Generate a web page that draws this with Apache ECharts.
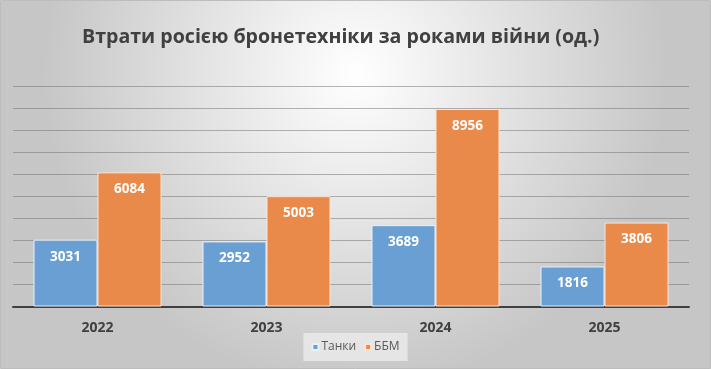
<!DOCTYPE html>
<html>
<head>
<meta charset="utf-8">
<script src="https://cdn.jsdelivr.net/npm/echarts@6/dist/echarts.min.js"></script>
<style>html,body{margin:0;padding:0;background:#fff}#c{width:711px;height:369px}</style>
</head>
<body>
<div id="c"></div>
<script>
const categories = ['2022', '2023', '2024', '2025'];
const tanks = [3031, 2952, 3689, 1816];
const ifv = [6084, 5003, 8956, 3806];
const seriesNames = ['Танки', 'ББМ'];
const titleText = 'Втрати росією бронетехніки за роками війни (од.)';

const chart = echarts.init(document.getElementById('c'), null, {renderer: 'canvas'});
const font = '"Open Sans", "Noto Sans", sans-serif';
const labelCfg = {
  show: true, position: 'insideTop', distance: 10,
  color: '#ffffff', fontWeight: 'bold', fontSize: 13.5, fontFamily: font
};
chart.setOption({
  backgroundColor: 'transparent',
  graphic: [{
    type: 'rect', z: -10, silent: true,
    shape: {x: 0.5, y: 0.5, width: 710, height: 368},
    style: {
      fill: {type: 'radial', x: 0.5, y: 0.2, r: 0.85, colorStops: [
        {offset: 0, color: '#ffffff'}, {offset: 1, color: '#c6c6c6'}
      ]},
      stroke: '#bdbdbd', lineWidth: 1
    }
  }],
  title: {
    text: titleText, left: 77, top: 22,
    textStyle: {fontFamily: font, fontWeight: 'bold', fontSize: 19.6, color: '#404040'}
  },
  legend: {
    data: seriesNames, bottom: 8, left: 'center',
    icon: 'rect', itemWidth: 6, itemHeight: 6, itemGap: 8,
    backgroundColor: 'rgba(240,240,240,0.7)', padding: [8, 8],
    textStyle: {fontFamily: font, fontSize: 12, color: '#595959', padding: [0, 0, 0, -2]}
  },
  grid: {left: 13, right: 22, top: 86, bottom: 62.5},
  xAxis: {
    type: 'category', data: categories,
    axisLine: {lineStyle: {color: '#404040', width: 2}},
    axisTick: {show: false},
    axisLabel: {fontFamily: font, fontWeight: 'bold', fontSize: 14, color: '#404040', margin: 15}
  },
  yAxis: {
    type: 'value', min: 0, max: 10000, interval: 1000,
    axisLabel: {show: false}, axisLine: {show: false}, axisTick: {show: false},
    splitLine: {lineStyle: {color: 'rgba(110,110,110,0.5)', width: 1}}
  },
  series: [
    {name: seriesNames[0], type: 'bar', data: tanks, barWidth: 64, barGap: '0%',
     itemStyle: {color: '#6a9fd4', borderColor: '#e8f0f8', borderWidth: 1}, label: labelCfg},
    {name: seriesNames[1], type: 'bar', data: ifv, barWidth: 64,
     itemStyle: {color: '#ea8a4a', borderColor: '#fbe5d6', borderWidth: 1}, label: labelCfg}
  ]
});
</script>
</body>
</html>
